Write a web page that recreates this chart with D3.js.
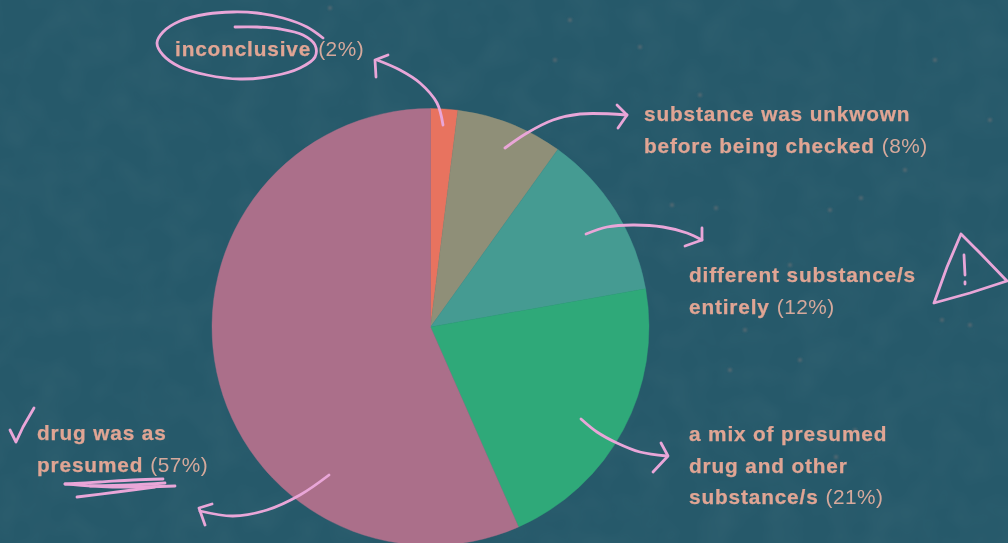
<!DOCTYPE html>
<html>
<head>
<meta charset="utf-8">
<script src="https://cdn.jsdelivr.net/npm/d3@7"></script>
<style>
    html, body { margin: 0; padding: 0; background: #26596a; overflow: hidden; }
    svg { display: block; }
    .label { font-family: "Liberation Sans", sans-serif; font-size: 20.8px; letter-spacing: 0.85px; fill: #e0a594; }
    .label .name { font-weight: bold; stroke: #e0a594; stroke-width: 0.25px; }
    .label .pct { fill: #d6a99c; letter-spacing: 0.5px; }
</style>
</head>
<body>
<svg id="chart" width="1008" height="543"></svg>
<script>
const categories = ["inconclusive", "substance was unkwown before being checked", "different substance/s entirely", "a mix of presumed drug and other substance/s", "drug was as presumed"];
// printed on the labels
const shareLabels = ["2%", "8%", "12%", "21%", "57%"];
// as the wedges are actually drawn, the picture is a little off its own labels
const sliceValues = [2, 7.9, 12.3, 21.2, 56.6];
const sliceColors = ["#e8735f", "#8f8f78", "#459b92", "#2fa979", "#ab6f8a"];

const labelLines = [
    ["inconclusive"],
    ["substance was unkwown", "before being checked"],
    ["different substance/s", "entirely"],
    ["a mix of presumed", "drug and other", "substance/s"],
    ["drug was as", "presumed"]
];
const labelAnchors = [[175, 56], [644, 121], [689, 282], [689, 441], [37, 440]];

// hand drawn bits
const scribbles = [
    // ring round "inconclusive"
    [[323, 38], [307, 27], [283, 18], [257, 13], [233, 12], [207, 14], [180, 21], [163, 32], [157, 43], [163, 55], [180, 67], [207, 75], [240, 79], [273, 76], [300, 68], [315, 57], [315, 45], [303, 35], [280, 29], [257, 27], [235, 27]],
    // arrows
    [[443, 125], [437, 103], [420, 83], [400, 70], [377, 60]],
    [[505, 148], [527, 133], [553, 120], [580, 114], [627, 115]],
    [[586, 234], [607, 227], [633, 225], [663, 227], [687, 233], [702, 240]],
    [[581, 419], [597, 432], [617, 443], [640, 452], [667, 456]],
    [[329, 475], [300, 495], [267, 510], [233, 516], [200, 511]],
    // underlines
    [[65, 484], [100, 482], [133, 480], [163, 479]],
    [[65, 484], [117, 487], [175, 486]],
    [[90, 486], [130, 485], [165, 483]],
    [[77, 497], [117, 492], [155, 487]],
    // exclamation mark
    [[964, 255], [965, 275]],
    [[965, 282], [965, 284]]
];
const straightScribbles = [
    // arrow heads
    [[388, 55], [375, 60], [376, 77]],
    [[617, 105], [627, 115], [618, 128]],
    [[702, 228], [702, 240], [685, 246]],
    [[661, 443], [668, 456], [653, 472]],
    [[212, 504], [199, 508], [205, 525]],
    // tick
    [[34, 408], [23, 427], [16, 442], [10, 430]],
    // warning triangle
    [[961, 234], [947, 267], [934, 303], [970, 293], [1007, 281], [980, 253], [961, 234]]
];
const specks = [[640, 47], [672, 205], [716, 208], [745, 330], [790, 265], [830, 210], [861, 198], [905, 170], [942, 320], [970, 325], [855, 430], [836, 457], [800, 360], [730, 370], [570, 20], [330, 8], [555, 60], [700, 95], [935, 60], [990, 120]];

const pieCentre = [430.5, 327], pieRadius = 218.5;

const svg = d3.select("#chart");
const defs = svg.append("defs");

const grain = defs.append("filter").attr("id", "grain").attr("x", 0).attr("y", 0).attr("width", "100%").attr("height", "100%");
grain.append("feTurbulence").attr("type", "fractalNoise").attr("baseFrequency", 0.03).attr("numOctaves", 2).attr("seed", 4);
grain.append("feColorMatrix").attr("values", "0 0 0 0 0.4  0 0 0 0 0.5  0 0 0 0 0.55  0 0 0 0.5 -0.17");

const soft = defs.append("filter").attr("id", "soft");
soft.append("feGaussianBlur").attr("stdDeviation", 1.2);

const chalk = defs.append("filter").attr("id", "chalk").attr("filterUnits", "userSpaceOnUse")
    .attr("x", 0).attr("y", 0).attr("width", 1008).attr("height", 543);
chalk.append("feTurbulence").attr("type", "fractalNoise").attr("baseFrequency", 0.5).attr("numOctaves", 2).attr("seed", 2).attr("result", "n");
chalk.append("feDisplacementMap").attr("in", "SourceGraphic").attr("in2", "n").attr("scale", 1.4);

svg.append("rect").attr("width", 1008).attr("height", 543).attr("fill", "#26596a");
svg.append("rect").attr("width", 1008).attr("height", 543).attr("filter", "url(#grain)").attr("opacity", 0.18);

svg.append("g").attr("filter", "url(#soft)").selectAll("circle").data(specks).enter().append("circle")
    .attr("cx", d => d[0]).attr("cy", d => d[1]).attr("r", 2)
    .attr("fill", "#8c7c7c").attr("opacity", 0.45);

const pie = d3.pie().sort(null).value(d => d);
const arc = d3.arc().innerRadius(0).outerRadius(pieRadius);

svg.append("g")
    .attr("transform", `translate(${pieCentre[0]},${pieCentre[1]})`)
    .selectAll("path").data(pie(sliceValues)).enter().append("path")
    .attr("d", arc)
    .attr("fill", (d, i) => sliceColors[i])
    .attr("stroke", (d, i) => sliceColors[i])
    .attr("stroke-width", 0.4);

const label = svg.append("g").selectAll("text").data(categories).enter().append("text")
    .attr("class", "label")
    .attr("x", (d, i) => labelAnchors[i][0])
    .attr("y", (d, i) => labelAnchors[i][1]);

label.each(function(d, i) {
    const text = d3.select(this);
    const lines = labelLines[i];
    lines.forEach((line, j) => {
        text.append("tspan")
            .attr("x", labelAnchors[i][0])
            .attr("dy", j === 0 ? 0 : 31.5)
            .attr("class", "name")
            .text(line);
    });
    text.append("tspan").attr("class", "pct").attr("dx", 7).text(`(${shareLabels[i]})`);
});

const smooth = d3.line().curve(d3.curveCatmullRom.alpha(0.5));
const straight = d3.line();
const ink = svg.append("g")
    .attr("fill", "none").attr("stroke", "#e9a6d8").attr("stroke-width", 2.8)
    .attr("stroke-linecap", "round").attr("stroke-linejoin", "round")
    .attr("filter", "url(#chalk)");

ink.selectAll("path.curve").data(scribbles).enter().append("path").attr("class", "curve").attr("d", smooth);
ink.selectAll("path.straight").data(straightScribbles).enter().append("path").attr("class", "straight").attr("d", straight);
</script>
</body>
</html>
